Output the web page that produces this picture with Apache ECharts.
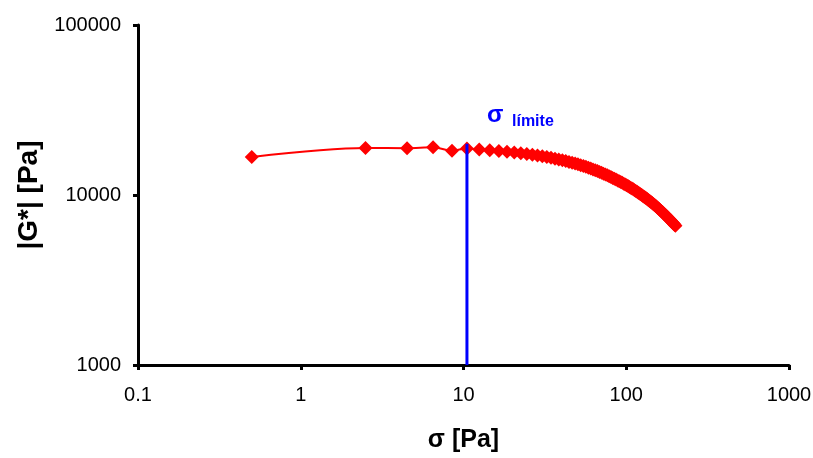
<!DOCTYPE html>
<html>
<head>
<meta charset="utf-8">
<script src="https://cdn.jsdelivr.net/npm/echarts@6/dist/echarts.min.js"></script>
<style>
  html, body { margin: 0; padding: 0; background: #fff; }
  #chart { width: 813px; height: 458px; }
</style>
</head>
<body>
<div id="chart"></div>
<script>
// shear stress sigma [Pa]
const sigma = [
  0.5, 2.5, 4.5, 6.5, 8.5, 10.5, 12.5, 14.5, 16.5, 18.5,
  20.5, 22.5, 24.5, 26.5, 28.5, 30.5, 32.5, 34.5, 36.5, 38.5,
  40.5, 42.5, 44.5, 46.5, 48.5, 50.5, 52.5, 54.5, 56.5, 58.5,
  60.5, 62.5, 64.5, 66.5, 68.5, 70.5, 72.5, 74.5, 76.5, 78.5,
  80.5, 82.5, 84.5, 86.5, 88.5, 90.5, 92.5, 94.5, 96.5, 98.5,
  100.5, 102.5, 104.5, 106.5, 108.5, 110.5, 112.5, 114.5, 116.5, 118.5,
  120.5, 122.5, 124.5, 126.5, 128.5, 130.5, 132.5, 134.5, 136.5, 138.5,
  140.5, 142.5, 144.5, 146.5, 148.5, 150.5, 152.5, 154.5, 156.5, 158.5,
  160.5, 162.5, 164.5, 166.5, 168.5, 170.5, 172.5, 174.5, 176.5, 178.5,
  180.5, 182.5, 184.5, 186.5, 188.5, 190.5, 192.5, 194.5, 196.5, 198.5,
  200.5
];
// complex modulus |G*| [Pa]
const gStar = [
  16750, 18900, 18850, 19100, 18200, 18800, 18550, 18350, 18150, 17980,
  17800, 17630, 17450, 17270, 17090, 16900, 16720, 16540, 16360, 16180,
  16000, 15830, 15660, 15490, 15320, 15150, 14980, 14810, 14640, 14470,
  14300, 14140, 13980, 13820, 13660, 13500, 13350, 13200, 13050, 12900,
  12750, 12610, 12470, 12330, 12190, 12050, 11920, 11790, 11660, 11530,
  11400, 11280, 11160, 11040, 10920, 10800, 10680, 10560, 10440, 10320,
  10200, 10100, 9990, 9880, 9780, 9670, 9570, 9460, 9360, 9250,
  9150, 9050, 8960, 8860, 8770, 8670, 8580, 8480, 8390, 8290,
  8200, 8110, 8030, 7940, 7860, 7770, 7690, 7600, 7520, 7430,
  7350, 7270, 7200, 7120, 7050, 6970, 6900, 6820, 6750, 6670,
  6600
];
// limit stress marker
const sigmaLimite = 10.5;
const limiteRange = [1000, 20000];

const xTicks = [0.1, 1, 10, 100, 1000];
const yTicks = [1000, 10000, 100000];

const font = 'Arial, "Liberation Sans", sans-serif';
const chart = echarts.init(document.getElementById('chart'));

const axisCommon = {
  type: 'log',
  logBase: 10,
  axisLine: { show: true, onZero: false, lineStyle: { color: '#000', width: 3 } },
  axisTick: { show: true, inside: false, length: 5, lineStyle: { color: '#000', width: 3 } },
  splitLine: { show: false },
  minorTick: { show: false },
  axisLabel: {
    color: '#000', fontFamily: font, fontSize: 20,
    formatter: v => String(v)
  },
  nameTextStyle: { color: '#000', fontFamily: font, fontSize: 25, fontWeight: 'bold' }
};

chart.setOption({
  animation: false,
  grid: { left: 138, right: 24, top: 25, bottom: 93, outerBoundsMode: 'none', containLabel: false },
  xAxis: Object.assign({}, axisCommon, {
    min: xTicks[0], max: xTicks[xTicks.length - 1],
    name: 'σ [Pa]', nameLocation: 'middle', nameGap: 63,
    axisLabel: Object.assign({}, axisCommon.axisLabel, { margin: 20, showMinLabel: true, showMaxLabel: true })
  }),
  yAxis: Object.assign({}, axisCommon, {
    min: yTicks[0], max: yTicks[yTicks.length - 1],
    name: '|G*| [Pa]', nameLocation: 'middle', nameGap: 94, nameRotate: 90,
    nameTextStyle: Object.assign({}, axisCommon.nameTextStyle, { fontSize: 28 }),
    axisLabel: Object.assign({}, axisCommon.axisLabel, { margin: 17 })
  }),
  series: [
    {
      type: 'line',
      data: sigma.map((s, i) => [s, gStar[i]]),
      smooth: 0.3,
      symbol: 'diamond',
      symbolSize: 14,
      lineStyle: { color: '#ff0000', width: 2 },
      itemStyle: { color: '#ff0000' },
      z: 2
    },
    {
      type: 'line',
      data: limiteRange.map(g => [sigmaLimite, g]),
      symbol: 'none',
      lineStyle: { color: '#0000ff', width: 3 },
      z: 3
    }
  ],
  graphic: [
    {
      type: 'text', left: 487, top: 103,
      style: { text: 'σ', fill: '#0000ff', font: 'bold 24px ' + font }
    },
    {
      type: 'text', left: 512, top: 114,
      style: { text: 'límite', fill: '#0000ff', font: 'bold 16px ' + font }
    }
  ]
});
</script>
</body>
</html>
